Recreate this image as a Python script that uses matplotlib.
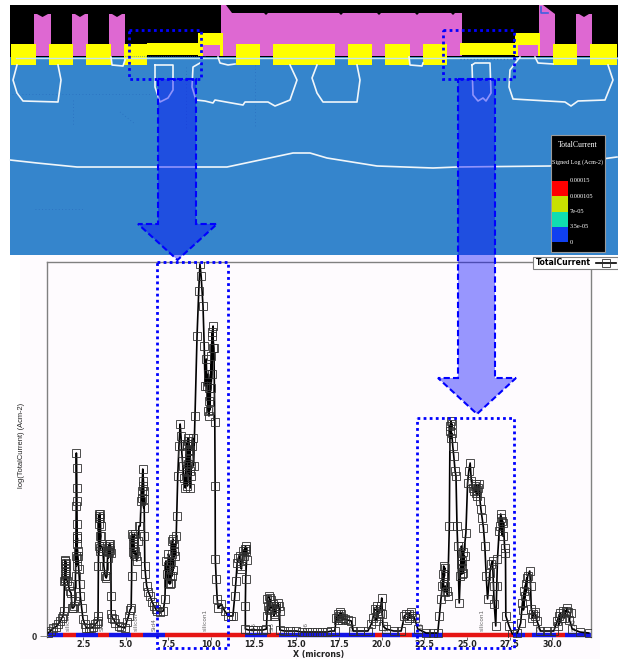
import numpy as np
import matplotlib
matplotlib.use("Agg")
import matplotlib.pyplot as plt
from matplotlib.patches import Rectangle, Polygon

W, H = 618, 659

# ---- line-plot data: (X in microns, log current in plot units) ----
trace_a = [(0.45,3),(0.6,5),(0.75,8),(0.9,9),(1.05,12),(1.18,15),(1.25,18),(1.33,20),(1.38,25),(1.41,55),
           (1.44,72),(1.47,75),(1.5,70),(1.45,62),(1.42,68),(1.46,58),(1.5,73),(1.43,76),(1.49,64),(1.44,56),(1.5,60),(1.57,55),(1.66,50),(1.72,45),(1.8,43),
           (1.86,28),(1.93,28),(2.0,30),(2.03,35),(2.06,60),(2.08,80),(2.1,130),(2.11,183),(2.12,168),(2.13,148),
           (2.14,135),(2.15,112),(2.16,100),(2.12,92),(2.19,85),(2.14,78),(2.17,98),(2.12,70),(2.2,80),(2.25,67),(2.3,52),(2.34,40),(2.42,28),
           (2.5,17),(2.6,12),(2.7,8),(2.85,8),(2.97,8),(3.1,9),(3.22,12),(3.3,13),(3.36,15)]
trace_b = [(3.38,20),(3.4,70),(3.41,120),(3.45,122),(3.5,118),(3.53,110),(3.48,100),(3.44,90),(3.47,85),(3.55,100),
           (3.46,118),(3.52,122),(3.43,112),(3.5,88),
           (3.6,90),(3.66,85),(3.72,70),(3.8,60),(3.86,58),(3.9,60),(3.95,85),(4.0,90),(4.04,92),(4.08,86),
           (3.97,78),(4.05,88),(4.0,84),(4.1,92),
           (4.13,83),(4.14,40),(4.15,22),(4.22,18),(4.29,17),(4.4,13),(4.58,10),(4.75,9),(4.97,8),(5.05,14),
           (5.17,20),(5.25,26),(5.32,28)]
trace_c = [(5.35,60),(5.36,102),(5.42,100),(5.46,90),(5.5,97),(5.44,84),(5.52,102),(5.4,92),(5.5,82),(5.55,85),(5.6,80),(5.65,75),(5.72,95),(5.78,110),
           (5.85,110),(5.9,135),(5.95,145),(6.0,167),(6.04,155),(6.06,145),(5.98,138),(6.06,128),(6.0,150),(6.08,137),(6.1,100),(6.12,70),(6.16,62),
           (6.23,50),(6.33,44),(6.43,40),(6.55,34),(6.66,30),(6.76,27),(6.86,25),(7.0,24),(7.2,25),(7.3,37)]
trace_d = [(7.35,75),(7.42,62),(7.5,53),(7.57,60),(7.46,70),(7.62,72),(7.5,82),(7.58,52),(7.64,53),(7.68,75),(7.72,95),(7.78,97),(7.7,82),(7.76,66),(7.82,92),(7.72,60),(7.84,85),(7.9,80),
           (7.96,100),(7.99,120),(8.05,160),(8.12,190),(8.19,212),(8.24,200),(8.29,183),(8.35,170),(8.42,158),(8.49,148),
           (8.54,175),(8.6,190),(8.64,198),(8.56,165),(8.62,150),(8.58,192),(8.66,172),(8.6,156),(8.7,185),(8.74,165),(8.66,195),(8.72,178),(8.78,148),(8.82,170),(8.72,192),(8.8,160),(8.76,186),(8.87,190),(8.92,198),(8.98,170),
           (9.06,220),(9.18,300),(9.28,345),(9.35,372),(9.42,360),(9.53,330),(9.6,290),(9.65,250),(9.72,277),(9.76,250),
           (9.82,225),(9.88,220),(9.93,240),(9.84,262),(9.9,235),(9.86,248),(9.94,226),(10.0,280),(10.06,300),(10.12,310),(10.04,262),(10.1,288),(10.0,248),(10.08,304),(10.17,288),(10.22,214),(10.24,150),(10.25,77),
           (10.3,57),(10.36,37),(10.42,28),(10.6,32),(10.8,25),(11.0,20),(11.15,20),(11.28,20)]
trace_e = [(11.39,40),(11.46,55),(11.53,73),(11.6,78),(11.68,80),(11.73,70),(11.78,67),(11.83,78),(11.88,85),(11.97,87),
           (12.03,85),(12.07,87),(11.94,80),(12.02,90),(12.08,76),(12.03,57),(12.01,30),(12.01,7),(12.2,6),(12.46,6),(12.7,6),(13.04,6),(13.24,7),
           (13.28,20),(13.3,37),(13.37,40),(13.44,38),(13.36,30),(13.5,36),(13.4,26),(13.52,30),(13.59,27),(13.66,24),(13.73,22),(13.62,32),(13.78,30),(13.68,20),(13.82,28),(13.92,33),
           (13.97,30),(14.02,25),(14.03,6),(14.3,5),(14.6,5),(15.0,5),(15.3,4),(15.6,4),(15.9,4),(16.2,4),
           (16.5,4),(16.8,4),(17.05,5),(17.25,5)]
trace_f = [(17.34,18),(17.42,22),(17.5,20),(17.64,22),(17.44,16),(17.58,24),(17.7,16),(17.74,18),(17.83,17),(17.62,18),(18.0,16),(18.22,15),(18.32,5),(18.7,5),
           (19.19,5),(19.39,12),(19.48,18),(19.58,27),(19.72,25),(19.64,15),(19.8,20),(19.7,30),(19.87,23),(19.95,30),(20.0,38),(20.04,22),(20.07,10),
           (20.26,7),(20.7,5),(21.14,5),(21.33,20),(21.45,22),(21.62,22),(21.5,16),(21.7,24),(21.58,18),(21.75,20),(21.92,18),(22.11,7),(22.6,3),
           (23.0,3),(23.28,3)]
trace_g = [(23.38,20),(23.47,37),(23.55,50),(23.63,70),(23.68,60),(23.58,62),(23.7,68),(23.62,52),(23.68,44),(23.73,50),(23.8,45),(23.86,40),(23.96,110),(24.0,210),
           (24.06,215),(24.02,205),(24.12,212),(24.04,198),(24.1,203),(24.16,190),(24.22,180),(24.3,165),(24.35,160),(24.41,110),(24.45,90),(24.54,33),(24.6,60),
           (24.67,90),(24.72,75),(24.64,72),(24.76,84),(24.68,62),(24.79,63),(24.85,80),(24.72,68),(24.93,103),(25.03,153),(25.1,165),(25.18,173),(25.25,155),(25.32,148),
           (25.42,145),(25.52,143),(25.44,150),(25.6,146),(25.5,152),(25.62,148),(25.56,140),(25.71,152),(25.76,135),(25.81,127),(25.88,118),(25.96,108),(26.04,90),(26.12,60),
           (26.2,37),(26.33,63),(26.42,72),(26.49,75),(26.55,50),(26.59,32),(26.68,10),(26.74,50),(26.78,77),(26.88,105),
           (26.97,122),(27.05,115),(26.95,110),(27.08,100),(27.0,118),(27.13,113),(27.2,88),(27.25,83),(27.27,20),(27.46,10),(27.65,2),(27.95,3)]
trace_h = [(28.14,13),(28.24,33),(28.35,45),(28.44,52),(28.3,26),(28.5,58),(28.4,40),(28.55,60),(28.67,65),(28.72,50),(28.76,27),(28.88,22),(28.8,18),(28.95,24),(29.0,20),
           (29.1,15),(29.3,5),(29.7,5),(30.08,5),(30.28,15),(30.38,20),(30.47,23),(30.34,10),(30.55,18),(30.62,25),(30.77,25),(30.7,18),(30.85,28),(30.92,24),
           (31.06,23),(31.0,16),(31.16,7),(31.6,4),(32.13,3)]

# Region strip along the X axis: (start, end, material colour)
strip_bounds = [0.39,1.33,2.06,3.35,4.05,5.34,6.04,7.33,11.99,13.28,13.98,19.61,20.02,21.07,21.77,23.53,27.69,28.39,28.80,30.21,30.74,32.26]
strip_colors = ['#1414e6','#e61414'] * 10 + ['#1414e6']

region_labels = ['Si1','silicon','Si2','silicon','Sid4','silicon1','Si5','Si5','Si6','Si6','Si7','Si8','silicon1','Si9','Si10']
region_pos = [0.72,1.65,3.6,5.6,6.65,9.65,12.55,13.6,15.55,18.3,20.3,22.3,25.9,29.25,31.3]

xticks = [2.5,5.0,7.5,10.0,12.5,15.0,17.5,20.0,22.5,25.0,27.5,30.0]

# ---- device cross-section (image pixel units) ----
yellow_full = [(10.5,36),(49,73),(86,111),(124,147),(236,260),(273,335),(348,372),(385,410),(423,447),(553,577),(590,617)]
yellow_bars = [(147,200),(460,515)]
yellow_raised = [(198,223),(515,540)]
pink_raised = [(203,220),(518,538)]
fingers = [(34,51),(72,88),(109,125),(576,592)]
main_pink = [(221,56),(221,5),(226,5),(232,13),(264,13),(266,15),(268,13),(339,13),(341,15),(343,13),(377,13),(379,15),(381,13),
             (415,13),(417,15),(419,13),(451,13),(453,15),(455,13),(462,13),(462,56)]
right_finger = [(539,56),(539,5),(543,5),(555,14),(555,56)]
contours = [
    [(17,65),(13,80),(17,93),(23,101),(58,102),(61,80),(58,65)],
    [(111,57),(112,65),(123,66),(125,60)],
    [(155,65),(155,87),(160,102),(168,98),(173,90),(173,65),(155,65)],
    [(200,63),(193,67),(192,87),(196,100),(205,101),(213,103),(215,100),(226,102),(243,105),(245,102),(268,102),(275,106),(290,100),(297,80),(290,65)],
    [(218,57),(220,63),(228,65),(235,64)],
    [(317,65),(312,78),(317,93),(323,102),(357,102),(360,80),(357,65)],
    [(409,57),(410,65),(422,66),(423,63)],
    [(472,65),(475,63),(490,63),(491,93),(486,101),(483,98),(478,101),(473,95),(472,65)],
    [(520,57),(510,70),(509,87),(513,99),(565,102),(571,106),(578,101),(605,100),(613,80),(608,65)],
    [(535,57),(538,63),(553,64)],
    [(10,160),(37,163),(77,167),(227,167),(260,160),(293,153),(310,153),(327,158),(377,166),(433,168),(457,167),(550,166),(617,157)],
]
faint_dots = [[(12,94),(150,94)],[(73,100),(73,126)],[(120,112),(135,124)],[(255,65),(255,126)],[(35,209),(85,209)],[(186,67),(186,130)]]
swatches = [('#ff0000',181,196),('#c8e000',196,212),('#10ddb0',212,227),('#1040f0',227,242)]
swatch_labels = [('0.00015',181),('0.000105',196),('7e-05',211.5),('3.5e-05',227),('0',242)]

plt.rcParams['font.family'] = 'DejaVu Sans'
fig = plt.figure(figsize=(W/100, H/100), dpi=100, facecolor='white')

# ---------- background / device panel ----------
bg = fig.add_axes([0, 0, 1, 1], zorder=0)
bg.set_xlim(0, W); bg.set_ylim(H, 0); bg.axis('off')

def box(ax, x0, x1, y0, y1, c, z=1, **kw):
    ax.add_patch(Rectangle((x0, y0), x1-x0, y1-y0, fc=c, ec='none', zorder=z, **kw))

box(bg, 20, 600, 255, 659, '#fefbfe', 0)
box(bg, 10, 618, 5, 255, '#3585cc', 1)
box(bg, 10, 618, 5, 57, 'black', 2)
PINK, YEL = '#de68d2', '#ffff00'
for x0, x1 in fingers:
    mid = (x0+x1)/2
    bg.add_patch(Polygon([(x0,56),(x0,14),(x0+3,14),(mid,17),(x1-3,14),(x1,14),(x1,56)], fc=PINK, ec='none', zorder=3))
bg.add_patch(Polygon(main_pink, fc=PINK, ec='none', zorder=3))
bg.add_patch(Polygon(right_finger, fc=PINK, ec='none', zorder=3))
for x0, x1 in yellow_full:
    box(bg, x0, x1, 43.5, 65, YEL, 4)
for x0, x1 in yellow_bars:
    box(bg, x0, x1, 42.5, 55, YEL, 4)
for x0, x1 in yellow_raised:
    box(bg, x0, x1, 33, 56, YEL, 4)
for x0, x1 in pink_raised:
    box(bg, x0, x1, 44.5, 56, PINK, 5)
bg.plot([16, 618], [57.5, 57.5], color='#c4e6ee', lw=1.0, zorder=6)
bg.plot([541,541,548],[7,13,13], color='#4060e0', lw=1.2, zorder=6)
for seg in faint_dots:
    xs, ys = zip(*seg)
    bg.plot(xs, ys, color='#2a6ec0', lw=0.6, ls=(0,(1,3)), zorder=2)
bg.plot([125,205],[56,56], color='#2a6ec0', lw=0.5, zorder=6, ls=(0,(1,2)))
bg.plot([460,520],[59,59], color='#2a6ec0', lw=0.8, zorder=6, ls=(0,(1,2)))
for c in contours:
    xs, ys = zip(*c)
    bg.plot(xs, ys, color='#f0f6fa', lw=1.2, zorder=6, solid_joinstyle='round')

# colour legend
bg.add_patch(Rectangle((551,135), 54, 117, fc='black', ec='#9a9a9a', lw=0.8, zorder=7))
bg.text(578, 145, 'TotalCurrent', color='white', family='Liberation Serif', fontsize=5.6, ha='center', va='center', zorder=8)
bg.text(578, 162, 'Signed Log (Acm-2)', color='white', family='Liberation Serif', fontsize=4.4, ha='center', va='center', zorder=8)
for c, y0, y1 in swatches:
    box(bg, 552, 568, y0, y1, c, 8)
for t, y in swatch_labels:
    bg.text(570, y, t, color='white', family='Liberation Serif', fontsize=4.6, ha='left', va='center', zorder=8)

# ---------- line plot ----------
L, R, T, B = 47, 591, 262, 637
ax = fig.add_axes([L/W, 1-B/H, (R-L)/W, (B-T)/H], zorder=1)
ax.patch.set_alpha(0)
trace = np.array(trace_a + trace_b + trace_c + trace_d + trace_e + trace_f + trace_g + trace_h)
ln, = ax.plot(trace[:,0], trace[:,1], color='black', lw=1.2, marker='s', ms=6.0, mfc='none',
              mec='#303030', mew=0.6, label='TotalCurrent', zorder=3)
ax.set_xlim(0.39, 32.26)
ax.set_ylim(-1, 374)
for i, c in enumerate(strip_colors):
    ax.hlines(1.0, strip_bounds[i], strip_bounds[i+1], color=c, lw=3.2, zorder=2, clip_on=False)
for t, x in zip(region_labels, region_pos):
    ax.text(x, 5, t, rotation=90, fontsize=4.2, color='#666666', ha='center', va='bottom', zorder=1)
ax.set_xticks(xticks)
ax.set_xticklabels([f'{v:.1f}' for v in xticks], fontweight='bold', fontsize=5.8, color='#222222')
ax.set_yticks([0])
ax.set_yticklabels(['0'], fontweight='bold', fontsize=5.5, color='#333333')
ax.tick_params(axis='x', length=2, width=0.7, color='#666666', pad=0)
ax.tick_params(axis='y', length=5, width=0.7, color='#888888', pad=2)
for s in ax.spines.values():
    s.set_color('#808080'); s.set_linewidth(1.0)
ax.spines['bottom'].set_visible(False)
ax.set_xlabel('X (microns)', fontweight='bold', fontsize=5.7, color='#222222', labelpad=0.8)
ax.set_ylabel('log(TotalCurrent) (Acm-2)', family='Liberation Sans', fontsize=5.4, color='#222222')
ax.yaxis.set_label_coords(-22/(R-L), 0.51)
leg = ax.legend(handles=[ln], loc='upper right', bbox_to_anchor=(1+27/(R-L), 1+5.5/(B-T)), frameon=True, fancybox=False,
                framealpha=1, edgecolor='#808080', prop={'weight':'bold','size':5.6}, markerfirst=False,
                handlelength=2.6, borderpad=0.25, borderaxespad=0, handletextpad=0.7)
leg.get_frame().set_linewidth(0.8)

# ---------- highlight overlay ----------
ov = fig.add_axes([0, 0, 1, 1], zorder=2)
ov.set_xlim(0, W); ov.set_ylim(H, 0); ov.axis('off'); ov.patch.set_alpha(0)

DOT = dict(fc='none', ec='#0000ff', lw=2.0, ls=(0,(1,1.2)), zorder=5)
for x0, y0, x1, y1 in [(129,30,201,79),(443,30,514,79),(157,262,228,648),(417,418,514,648)]:
    ov.add_patch(Rectangle((x0,y0), x1-x0, y1-y0, **DOT))

def arrow(x0, x1, y0, yh, hx0, hx1, tip):
    pts = [(x0,y0),(x1,y0),(x1,yh),(hx1,yh),((hx0+hx1)/2,tip),(hx0,yh),(x0,yh)]
    ov.add_patch(Polygon(pts, closed=True, fc=(0,0,1,0.4), ec=(0,0,1,1), lw=1.5, ls=(0,(3,1.5)), zorder=4))

arrow(158, 196, 79, 224, 138, 217, 260)
arrow(458, 495, 79, 378, 438, 516, 414)

fig.savefig('out.png', dpi=100, facecolor='white')
